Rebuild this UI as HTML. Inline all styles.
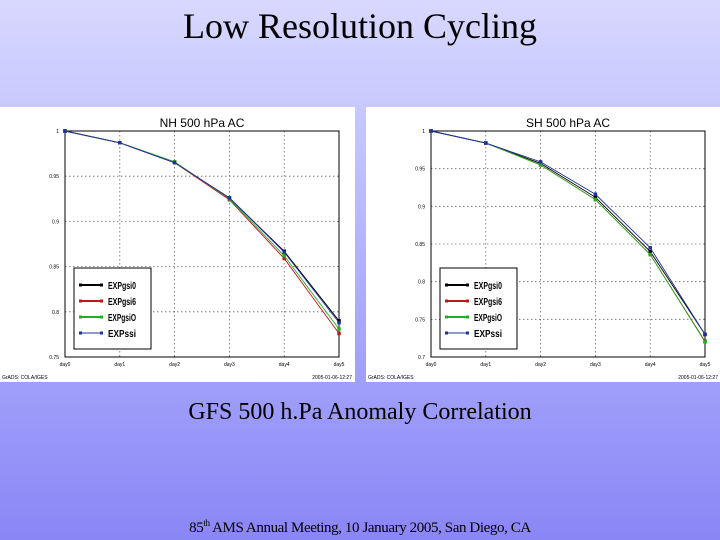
<!DOCTYPE html>
<html><head><meta charset="utf-8"><style>
html,body{margin:0;padding:0}
body{width:720px;height:540px;overflow:hidden;position:relative;background:linear-gradient(#d8d8ff 0%,#a8a8fb 60%,#8a86f6 100%);font-family:"Liberation Serif",serif}
.t{position:absolute;left:0;width:720px;text-align:center;color:#000}
svg{position:absolute;top:0;left:0}
</style></head><body>
<div class="t" style="top:5px;font-size:36px">Low Resolution Cycling</div>
<div class="t" style="top:399px;font-size:24px">GFS 500 h.Pa Anomaly Correlation</div>
<div class="t" style="top:518px;font-size:15px;letter-spacing:-0.4px">85<sup style="font-size:9px">th</sup> AMS Annual Meeting, 10 January 2005, San Diego, CA</div>
<svg id="s" width="720" height="540"></svg>
<script>
const days=["day0","day1","day2","day3","day4","day5"];
const seriesNames=["EXPgsi0","EXPgsi6","EXPgsiO","EXPssi"];
const seriesColors=["#000","#c01818","#20b020","#2030a0"];
const nhTicks=[1,0.95,0.9,0.85,0.8,0.75];
const nhBlack=[1,0.987,0.965,0.926,0.867,0.790];
const nhRed=[1,0.987,0.965,0.924,0.859,0.776];
const nhGreen=[1,0.987,0.966,0.925,0.862,0.781];
const nhBlue=[1,0.987,0.965,0.926,0.866,0.788];
const shTicks=[1,0.95,0.9,0.85,0.8,0.75,0.7];
const shBlack=[1,0.984,0.957,0.912,0.840,0.730];
const shRed=[1,0.984,0.955,0.909,0.836,0.721];
const shGreen=[1,0.984,0.955,0.909,0.836,0.720];
const shBlue=[1,0.984,0.959,0.916,0.845,0.730];
const NS="http://www.w3.org/2000/svg",svg=document.getElementById('s');
function el(t,a,p){const e=document.createElementNS(NS,t);for(const k in a)e.setAttribute(k,a[k]);(p||svg).appendChild(e);return e;}
function chart(ox,title,ticks,ymin,data,name){
  const g=el('g',{});
  
  
  el('rect',{x:ox,y:107,width:355,height:275,fill:'#fff'},g);
  const L=ox+65,R=ox+339,T=131,B=357;
  const xs=i=>L+(R-L)*i/(days.length-1);
  const ys=v=>B-(B-T)*(v-ymin)/(1-ymin);
  const tt=el('text',{x:(L+R)/2,y:127,'text-anchor':'middle','font-size':12,'font-family':'Liberation Sans,sans-serif'},g);tt.textContent=title;
  
  
  ticks.forEach(v=>{const y=ys(v);
    if(v<1&&v>ymin)el('line',{x1:L,x2:R,y1:y,y2:y,stroke:'#666','stroke-dasharray':'1.5,2.5','stroke-width':0.8},g);
    const t=el('text',{x:L-6,y:y+2,'text-anchor':'end','font-size':5,'font-family':'Liberation Sans,sans-serif'},g);t.textContent=v;
    
    });
  days.forEach((d,i)=>{const x=xs(i);
    if(i>0&&i<days.length-1)el('line',{x1:x,x2:x,y1:T,y2:B,stroke:'#666','stroke-dasharray':'1.5,2.5','stroke-width':0.8},g);
    const t=el('text',{x:x,y:B+9,'text-anchor':'middle','font-size':5,'font-family':'Liberation Sans,sans-serif'},g);t.textContent=d;
    
    });
  el('rect',{x:L,y:T,width:R-L,height:B-T,fill:'none',stroke:'#000','stroke-width':1},g);
  data.forEach((s,k)=>{
    const pl=el('polyline',{points:s.map((v,i)=>xs(i)+','+ys(v)).join(' '),fill:'none',stroke:seriesColors[k],'stroke-width':0.9},g);
    
    
    s.forEach((v,i)=>{const m=el('rect',{x:xs(i)-1.75,y:ys(v)-1.75,width:3.5,height:3.5,fill:seriesColors[k]},g);
      
      });
  });
  const lx=ox+74,ly=268;
  const lg=el('rect',{x:lx,y:ly,width:77,height:81,fill:'#fff',stroke:'#000','stroke-width':1},g);
  
  
  seriesNames.forEach((n,k)=>{const y=ly+17+k*16;
    el('line',{x1:lx+6,x2:lx+28,y1:y,y2:y,stroke:seriesColors[k],'stroke-width':k<3?2:1},g);
    el('rect',{x:lx+5,y:y-1.5,width:3,height:3,fill:seriesColors[k]},g);
    el('rect',{x:lx+26,y:y-1.5,width:3,height:3,fill:seriesColors[k]},g);
    const t=el('text',{x:lx+34,y:y+4,'font-size':10,'font-family':'Liberation Sans,sans-serif','font-weight':'bold',textLength:28,lengthAdjust:'spacingAndGlyphs'},g);t.textContent=n;
    
    });
  const a=el('text',{x:ox+2,y:379,'font-size':5,'font-family':'Liberation Sans,sans-serif'},g);a.textContent='GrADS: COLA/IGES';
  const b=el('text',{x:ox+352,y:379,'text-anchor':'end','font-size':5,'font-family':'Liberation Sans,sans-serif'},g);b.textContent='2005-01-06-12:27';
}
chart(0,'NH 500 hPa AC',nhTicks,0.75,[nhBlack,nhRed,nhGreen,nhBlue],'nh-chart');
chart(366,'SH 500 hPa AC',shTicks,0.7,[shBlack,shRed,shGreen,shBlue],'sh-chart');
</script>
</body></html>
